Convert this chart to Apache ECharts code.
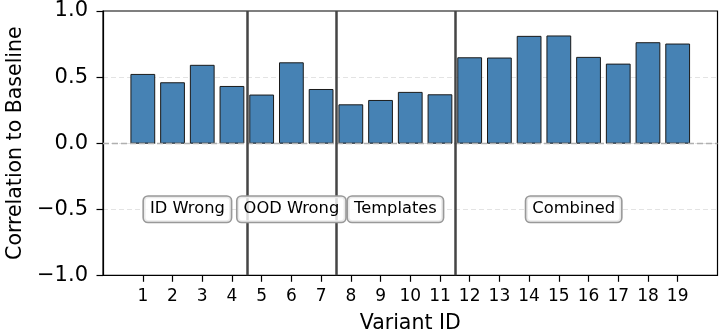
<!DOCTYPE html>
<html>
<head>
<meta charset="utf-8">
<script src="https://cdn.jsdelivr.net/npm/echarts@6/dist/echarts.min.js"></script>
<style>
  html, body { margin: 0; padding: 0; background: #fff; }
  #chart { width: 719px; height: 333px; }
</style>
</head>
<body>
<div id="chart"></div>
<script>
// Variant IDs and their correlation to the baseline
const variantIds = [1, 2, 3, 4, 5, 6, 7, 8, 9, 10, 11, 12, 13, 14, 15, 16, 17, 18, 19];
const correlations = [0.52, 0.457, 0.589, 0.429, 0.364, 0.608, 0.406, 0.29, 0.323, 0.384, 0.366,
                      0.646, 0.644, 0.808, 0.811, 0.649, 0.598, 0.76, 0.75];

// Group boundaries (between variant IDs) and group captions
const groupBoundaries = [4.5, 7.5, 11.5];
const groupNames = ['ID Wrong', 'OOD Wrong', 'Templates', 'Combined'];
const groupCenters = [2.5, 6, 9.5, 15.5];
const groupLabelY = [-0.5, -0.5, -0.5, -0.5];

// Y axis ticks
const yTicks = [-1.0, -0.5, 0.0, 0.5, 1.0];

const FONT = 'DejaVu Sans';
const chart = echarts.init(document.getElementById('chart'), null, { renderer: 'canvas' });

const barWidth = 0.8;

chart.setOption({
  animation: false,
  backgroundColor: '#ffffff',
  grid: {
    left: 103, right: 1.5, top: 11, bottom: 57.7,
    outerBoundsMode: 'none',
    containLabel: false,
    show: true, borderColor: '#000', borderWidth: 1.2, backgroundColor: 'transparent'
  },
  xAxis: {
    type: 'value',
    min: -0.34,
    max: 20.34,
    name: 'Variant ID',
    nameLocation: 'middle',
    nameGap: 38,
    nameTextStyle: { fontFamily: FONT, fontSize: 20.5, color: '#000' },
    axisLine: { show: true, onZero: false, lineStyle: { color: '#000', width: 1.2 } },
    axisTick: { show: true, length: 6.5, customValues: variantIds, lineStyle: { color: '#000', width: 1.2 } },
    axisLabel: {
      customValues: variantIds,
      margin: 13,
      fontFamily: FONT, fontSize: 17, color: '#000',
      formatter: v => String(v)
    },
    splitLine: { show: false }
  },
  yAxis: {
    type: 'value',
    min: yTicks[0],
    max: yTicks[yTicks.length - 1],
    interval: 0.5,
    name: 'Correlation to Baseline',
    nameLocation: 'middle',
    nameGap: 73,
    nameTextStyle: { fontFamily: FONT, fontSize: 20.5, color: '#000' },
    axisLine: { show: true, onZero: false, lineStyle: { color: '#000', width: 1.2 } },
    axisTick: { show: true, length: 6.5, lineStyle: { color: '#000', width: 1.2 } },
    axisLabel: {
      margin: 15,
      fontFamily: FONT, fontSize: 21, color: '#000',
      formatter: v => (v < 0 ? '\u2212' : '') + Math.abs(v).toFixed(1)
    },
    splitLine: {
      show: true, showMinLine: false, showMaxLine: false,
      lineStyle: { color: '#e3e3e3', type: [5, 3], width: 1 }
    }
  },
  series: [
    {
      // zero reference line and group separators
      type: 'line',
      data: [],
      silent: true,
      z: 1,
      markLine: {
        symbol: 'none',
        silent: true,
        label: { show: false },
        data: [
          { yAxis: 0, lineStyle: { color: '#b0b0b0', type: [6, 3], width: 1.4 } }
        ].concat(groupBoundaries.map(b => ({
          xAxis: b, lineStyle: { color: '#454545', type: 'solid', width: 2.5 }
        })))
      }
    },
    {
      type: 'custom',
      name: 'Correlation',
      z: 3,
      data: variantIds.map((id, i) => [id, correlations[i]]),
      renderItem: (params, api) => {
        const x = api.value(0), v = api.value(1);
        const p0 = api.coord([x - barWidth / 2, v]);
        const p1 = api.coord([x + barWidth / 2, 0]);
        return {
          type: 'rect',
          shape: {
            x: p0[0], y: Math.min(p0[1], p1[1]),
            width: p1[0] - p0[0], height: Math.abs(p1[1] - p0[1])
          },
          style: { fill: '#4682b4', stroke: '#1a1a1a', lineWidth: 1 }
        };
      }
    },
    {
      type: 'custom',
      name: 'Groups',
      z: 5,
      data: groupNames.map((n, i) => [groupCenters[i], groupLabelY[i], n]),
      renderItem: (params, api) => {
        const p = api.coord([api.value(0), api.value(1)]);
        return {
          type: 'text',
          x: p[0], y: p[1],
          style: {
            text: groupNames[params.dataIndex],
            fontFamily: FONT, fontSize: 16.3, fill: '#000',
            align: 'center', verticalAlign: 'middle',
            backgroundColor: 'rgba(255,255,255,0.8)',
            borderColor: '#999999', borderWidth: 1.6, borderRadius: 4,
            padding: [5, 6, 4, 6]
          }
        };
      }
    }
  ]
});
</script>
</body>
</html>
